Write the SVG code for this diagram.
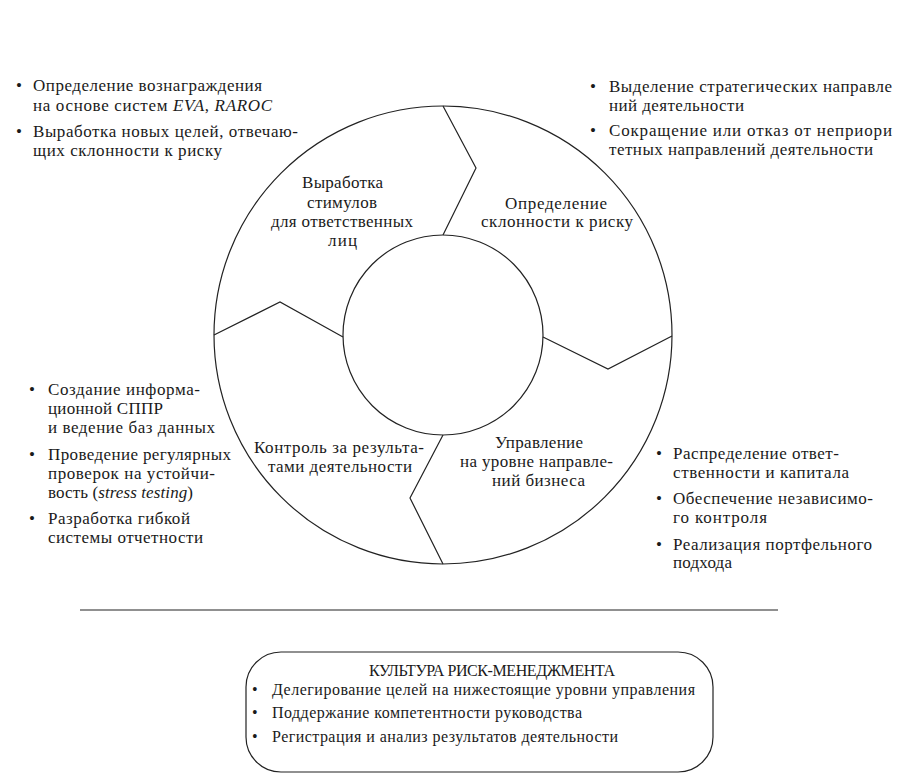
<svg xmlns="http://www.w3.org/2000/svg" width="910" height="780" viewBox="0 0 910 780">
<style>
  text { font-family: "Liberation Serif", "Times New Roman", serif; fill: #1a1a1a; }
  .t { font-size: 17px; }
  .s { font-size: 16px; }
  .it { font-style: italic; }
  .ln { fill: none; stroke: #222; stroke-width: 1.2; }
</style>
<rect width="910" height="780" fill="#fff"/>

<g id="ring">
  <circle class="ln" cx="443" cy="335" r="229"/>
  <circle class="ln" cx="443" cy="335" r="100"/>
</g>

<g id="connectors">
  <polyline class="ln" points="443,106 476,168 443,235"/>
  <polyline class="ln" points="214,335 280,302 343,337"/>
  <polyline class="ln" points="543,337 608,369 672,336"/>
  <polyline class="ln" points="443,435 410,498 443,564"/>
</g>

<g id="node-stimuli">
  <text class="t" x="302" y="188" textLength="81" lengthAdjust="spacing">Выработка</text>
  <text class="t" x="307" y="208" textLength="70" lengthAdjust="spacing">стимулов</text>
  <text class="t" x="271" y="227" textLength="142" lengthAdjust="spacing">для ответственных</text>
  <text class="t" x="328" y="246" textLength="29" lengthAdjust="spacing">лиц</text>
</g>

<g id="node-appetite">
  <text class="t" x="505" y="209" textLength="102" lengthAdjust="spacing">Определение</text>
  <text class="t" x="481" y="227" textLength="152" lengthAdjust="spacing">склонности к риску</text>
</g>

<g id="node-control">
  <text class="t" x="254" y="453" textLength="170" lengthAdjust="spacing">Контроль за результа-</text>
  <text class="t" x="268" y="472" textLength="144" lengthAdjust="spacing">тами деятельности</text>
</g>

<g id="node-business">
  <text class="t" x="495" y="448" textLength="88" lengthAdjust="spacing">Управление</text>
  <text class="t" x="460" y="467" textLength="153" lengthAdjust="spacing">на уровне направле-</text>
  <text class="t" x="492" y="486" textLength="93" lengthAdjust="spacing">ний бизнеса</text>
</g>

<g id="list-top-left">
  <text class="t" x="16" y="91">•</text>
  <text class="t" x="33" y="91" textLength="229" lengthAdjust="spacing">Определение вознаграждения</text>
  <text class="t" x="33" y="111" textLength="239" lengthAdjust="spacing">на основе систем <tspan class="it">EVA</tspan>, <tspan class="it">RAROC</tspan></text>
  <text class="t" x="16" y="137">•</text>
  <text class="t" x="33" y="137" textLength="265" lengthAdjust="spacing">Выработка новых целей, отвечаю-</text>
  <text class="t" x="33" y="156" textLength="189" lengthAdjust="spacing">щих склонности к риску</text>
</g>

<g id="list-top-right">
  <text class="t" x="590" y="92">•</text>
  <text class="t" x="609" y="92" textLength="283" lengthAdjust="spacing">Выделение стратегических направле</text>
  <text class="t" x="609" y="111" textLength="135" lengthAdjust="spacing">ний деятельности</text>
  <text class="t" x="590" y="136">•</text>
  <text class="t" x="609" y="136" textLength="283" lengthAdjust="spacing">Сокращение или отказ от неприори</text>
  <text class="t" x="609" y="155" textLength="264" lengthAdjust="spacing">тетных направлений деятельности</text>
</g>

<g id="list-bottom-left">
  <text class="t" x="29" y="395">•</text>
  <text class="t" x="48" y="395" textLength="152" lengthAdjust="spacing">Создание информа-</text>
  <text class="t" x="48" y="414" textLength="115" lengthAdjust="spacing">ционной СППР</text>
  <text class="t" x="48" y="433" textLength="167" lengthAdjust="spacing">и ведение баз данных</text>
  <text class="t" x="29" y="460">•</text>
  <text class="t" x="48" y="460" textLength="183" lengthAdjust="spacing">Проведение регулярных</text>
  <text class="t" x="48" y="479" textLength="167" lengthAdjust="spacing">проверок на устойчи-</text>
  <text class="t" x="48" y="498" textLength="145" lengthAdjust="spacing">вость (<tspan class="it">stress testing</tspan>)</text>
  <text class="t" x="29" y="524">•</text>
  <text class="t" x="48" y="524" textLength="142" lengthAdjust="spacing">Разработка гибкой</text>
  <text class="t" x="48" y="543" textLength="155" lengthAdjust="spacing">системы отчетности</text>
</g>

<g id="list-bottom-right">
  <text class="t" x="656" y="459">•</text>
  <text class="t" x="673" y="459" textLength="166" lengthAdjust="spacing">Распределение ответ-</text>
  <text class="t" x="673" y="478" textLength="176" lengthAdjust="spacing">ственности и капитала</text>
  <text class="t" x="656" y="504">•</text>
  <text class="t" x="673" y="504" textLength="200" lengthAdjust="spacing">Обеспечение независимо-</text>
  <text class="t" x="673" y="523" textLength="94" lengthAdjust="spacing">го контроля</text>
  <text class="t" x="656" y="550">•</text>
  <text class="t" x="673" y="550" textLength="199" lengthAdjust="spacing">Реализация портфельного</text>
  <text class="t" x="673" y="568" textLength="59" lengthAdjust="spacing">подхода</text>
</g>

<line class="ln" x1="80" y1="610" x2="778" y2="610"/>

<g id="culture-box">
  <rect class="ln" x="246" y="652" width="467" height="120" rx="35" ry="35"/>
  <text class="s" x="369" y="676" textLength="246" lengthAdjust="spacing">КУЛЬТУРА РИСК-МЕНЕДЖМЕНТА</text>
  <text class="s" x="252" y="695">•</text>
  <text class="s" x="272" y="695" textLength="423" lengthAdjust="spacing">Делегирование целей на нижестоящие уровни управления</text>
  <text class="s" x="252" y="718">•</text>
  <text class="s" x="272" y="718" textLength="310" lengthAdjust="spacing">Поддержание компетентности руководства</text>
  <text class="s" x="252" y="742">•</text>
  <text class="s" x="272" y="742" textLength="346" lengthAdjust="spacing">Регистрация и анализ результатов деятельности</text>
</g>
</svg>
